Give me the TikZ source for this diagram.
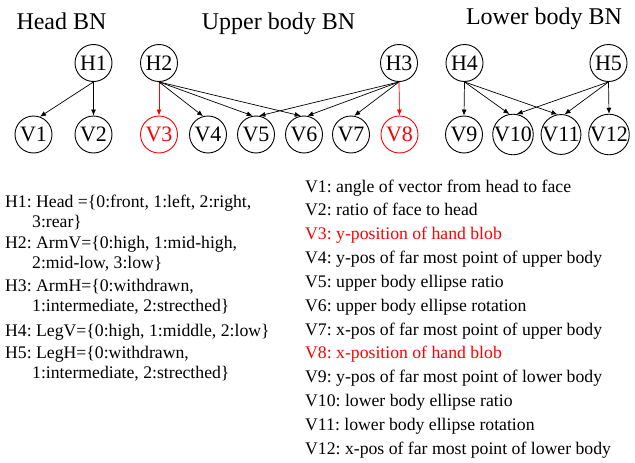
\documentclass[tikz,border=0pt]{standalone}
\usepackage{fontspec}
\setmainfont{Liberation Serif}
\usetikzlibrary{arrows.meta}
\begin{document}
\begin{tikzpicture}[x=1pt,y=-1pt,
  bn/.style={circle,draw,line width=0.9pt,minimum size=37pt,inner sep=0pt,font=\fontsize{22}{22}\selectfont},
  hl/.style={draw=red,text=red},
  edge/.style={-{Latex[length=6pt,width=5pt]},line width=0.7pt},
  hledge/.style={edge,draw=red,fill=red},
  ttl/.style={font=\fontsize{24}{28}\selectfont,anchor=base,inner sep=0pt},
  lst/.style={font=\fontsize{17.7}{20}\selectfont\frenchspacing,anchor=base west,inner sep=0pt}]
\useasboundingbox (0,0) rectangle (635,463);
% titles
\node[ttl] (t1) at (61.5,29) {Head BN};
\node[ttl] (t2) at (278.5,29) {Upper body BN};
\node[ttl] (t3) at (544,24) {Lower body BN};
% hidden nodes
\node[bn] (H1) at (93.5,63) {H1};
\node[bn] (H2) at (159,63) {H2};
\node[bn] (H3) at (399,63) {H3};
\node[bn] (H4) at (464.5,63) {H4};
\node[bn] (H5) at (608.5,63) {H5};
% visible nodes
\node[bn] (V1) at (33.5,134.5) {V1};
\node[bn] (V2) at (93.5,134.5) {V2};
\node[bn,hl] (V3) at (159,134.5) {V3};
\node[bn] (V4) at (208,134.5) {V4};
\node[bn] (V5) at (256,134.5) {V5};
\node[bn] (V6) at (304,134.5) {V6};
\node[bn] (V7) at (351,134.5) {V7};
\node[bn,hl] (V8) at (399.5,134.5) {V8};
\node[bn] (V9) at (464,134.5) {V9};
\node[bn] (V10) at (513,134.5) {V10};
\node[bn] (V11) at (561,134.5) {V11};
\node[bn] (V12) at (609,134.5) {V12};
% edges
\draw[edge] (H1.south) -- (V1.70);
\draw[edge] (H1.south) -- (V2.north);
\draw[hledge] (H2.south) -- (V3.north);
\draw[edge] (H2.south) -- (V4.105);
\draw[edge] (H2.south) -- (V5.100);
\draw[edge] (H2.south) -- (V6.100);
\draw[edge] (H3.south) -- (V5.80);
\draw[edge] (H3.south) -- (V6.80);
\draw[edge] (H3.south) -- (V7.80);
\draw[hledge] (H3.south) -- (V8.north);
\draw[edge] (H4.south) -- (V9.north);
\draw[edge] (H4.south) -- (V10.100);
\draw[edge] (H4.south) -- (V11.100);
\draw[edge] (H5.south) -- (V10.80);
\draw[edge] (H5.south) -- (V11.80);
\draw[edge] (H5.south) -- (V12.north);
% left list
\node[lst] (l1) at (5,207) {H1: Head =\{0:front, 1:left, 2:right,};
\node[lst] (l2) at (32,227) {3:rear\}};
\node[lst] (l3) at (5,248) {H2: ArmV=\{0:high, 1:mid-high,};
\node[lst] (l4) at (32,268) {2:mid-low, 3:low\}};
\node[lst] (l5) at (5,291) {H3: ArmH=\{0:withdrawn,};
\node[lst] (l6) at (32,311) {1:intermediate, 2:strecthed\}};
\node[lst] (l7) at (5,336) {H4: LegV=\{0:high, 1:middle, 2:low\}};
\node[lst] (l8) at (5,358) {H5: LegH=\{0:withdrawn,};
\node[lst] (l9) at (32,378) {1:intermediate, 2:strecthed\}};
% right list
\node[lst] (r1) at (305,192) {V1: angle of vector from head to face};
\node[lst] (r2) at (305,215.85) {V2: ratio of face to head};
\node[lst,text=red] (r3) at (305,239.7) {V3: y-position of hand blob};
\node[lst] (r4) at (305,263.55) {V4: y-pos of far most point of upper body};
\node[lst] (r5) at (305,287.4) {V5: upper body ellipse ratio};
\node[lst] (r6) at (305,311.25) {V6: upper body ellipse rotation};
\node[lst] (r7) at (305,335.1) {V7: x-pos of far most point of upper body};
\node[lst,text=red] (r8) at (305,358.95) {V8: x-position of hand blob};
\node[lst] (r9) at (305,382.8) {V9: y-pos of far most point of lower body};
\node[lst] (r10) at (305,406.65) {V10: lower body ellipse ratio};
\node[lst] (r11) at (305,430.5) {V11: lower body ellipse rotation};
\node[lst] (r12) at (305,454.35) {V12: x-pos of far most point of lower body};
\end{tikzpicture}
\end{document}
